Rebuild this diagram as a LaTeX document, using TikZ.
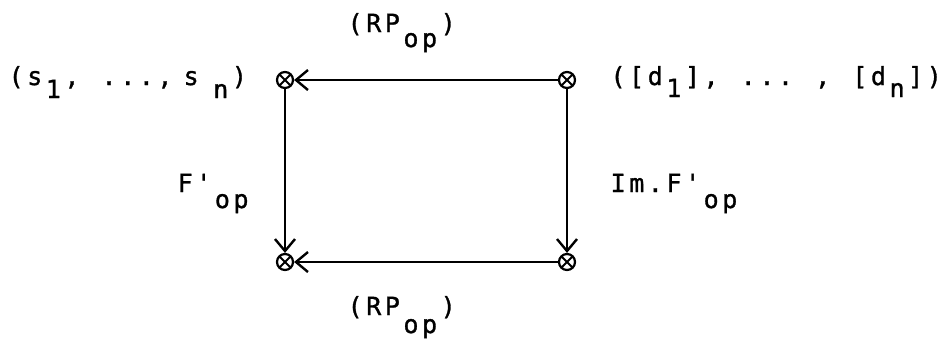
\documentclass[tikz,border=0pt]{standalone}
\usepackage{fontspec}
\newfontfamily\twfont[Ligatures=TeXOff,FakeBold=1.2]{DejaVu Sans Mono}
\usetikzlibrary{arrows.meta}
\newlength\twpitch
\setlength\twpitch{18.6pt}
\ExplSyntaxOn
\NewDocumentCommand\twl{m}{\str_map_inline:nn{#1}{\makebox[\twpitch]{##1}}}
\ExplSyntaxOff
\newcommand\twsub[2]{\raisebox{-#1pt}{\twl{#2}}}
\tikzset{
  lab/.style={anchor=base west, inner sep=0pt, font={\twfont\fontsize{25pt}{25pt}\selectfont}},
  otimes/.style={circle, draw, line width=2.2pt, minimum size=16pt, inner sep=0pt,
    path picture={\draw[line width=1.8pt] (path picture bounding box.south west) -- (path picture bounding box.north east)
      (path picture bounding box.north west) -- (path picture bounding box.south east);}},
  arr/.style={line width=2.4pt, -{Straight Barb[length=12pt,width=20pt]}}
}
\begin{document}
\begin{tikzpicture}[x=1pt,y=-1pt]
\useasboundingbox (0,0) rectangle (946,354);
\node[otimes] (TL) at (285,80) {};
\node[otimes] (TR) at (567,80) {};
\node[otimes] (BL) at (285,262) {};
\node[otimes] (BR) at (567,262) {};
\draw[arr] (TR) -- (TL);
\draw[arr] (BR) -- (BL);
\draw[arr] (TL) -- (BL);
\draw[arr] (TR) -- (BR);
\node[lab] (ls) at (6.7,85) {\twl{(s}\twsub{13}{1}\twl{, ..., }\hspace{-11pt}\twl{s}\hspace{11pt}\twsub{13}{n}\twl{)}};
\node[lab] (ld) at (608.6,85) {\twl{([d}\twsub{12}{1}\twl{], ... , [d}\twsub{12}{n}\twl{])}};
\node[lab] (lt) at (345.7,32) {\twl{(RP}\twsub{15}{op}\twl{)}};
\node[lab] (lb) at (345.7,315) {\twl{(RP}\twsub{18}{op}\twl{)}};
\node[lab] (lf) at (175.7,192) {\twl{F'}\twsub{16}{op}};
\node[lab] (li) at (608.7,192) {\twl{Im.F'}\twsub{16}{op}};
\end{tikzpicture}
\end{document}
